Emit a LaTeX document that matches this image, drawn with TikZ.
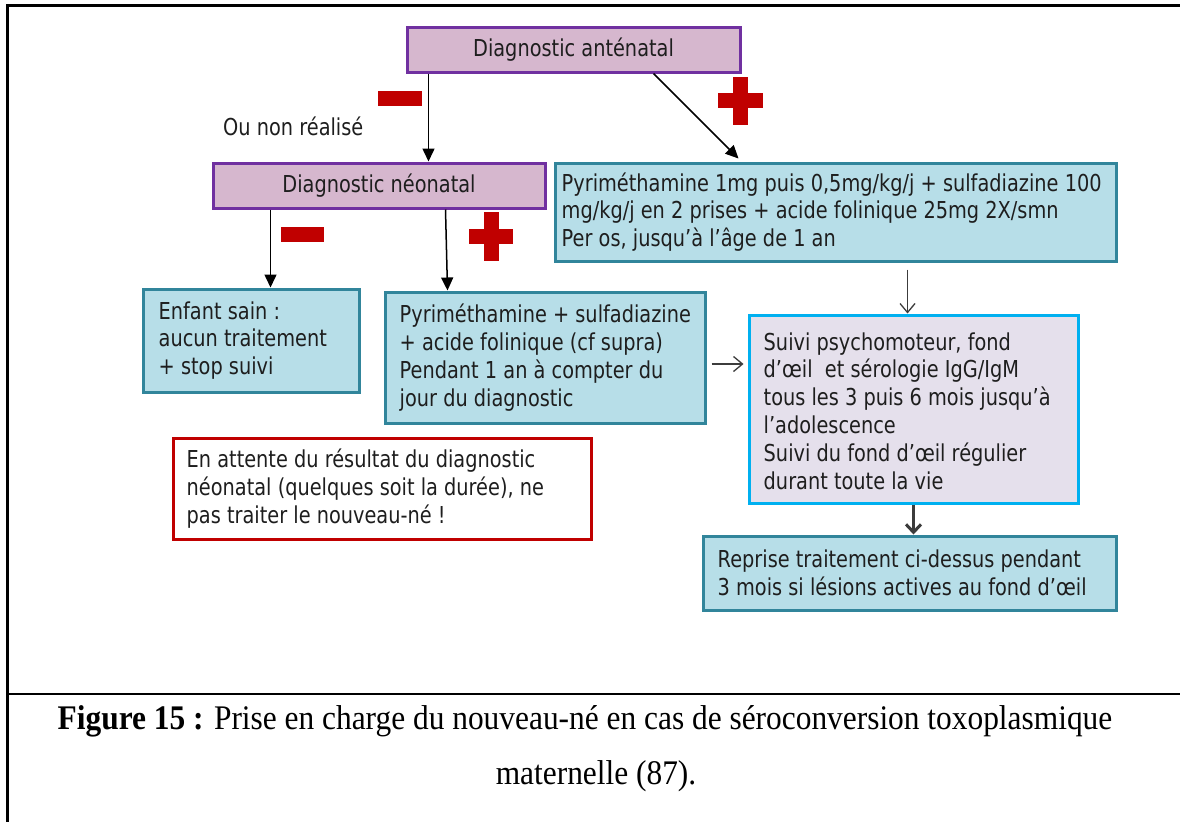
\documentclass[tikz,border=0pt]{standalone}
\usepackage{fontspec}
\setmainfont[FakeStretch=0.91]{Liberation Serif}
\newfontfamily\boxfont[FakeStretch=0.83]{DejaVu Sans}
\usetikzlibrary{arrows.meta,calc}

\definecolor{mauvefill}{RGB}{214,183,206}
\definecolor{mauveline}{RGB}{112,48,160}
\definecolor{tealfill}{RGB}{183,222,232}
\definecolor{tealline}{RGB}{49,133,155}
\definecolor{lilacfill}{RGB}{229,224,236}
\definecolor{skyline}{RGB}{0,176,240}
\definecolor{signred}{RGB}{192,0,0}
\definecolor{inkgray}{RGB}{30,30,30}
\definecolor{arrowgray}{RGB}{60,60,60}

\tikzset{
  boxtext/.style={font=\boxfont\fontsize{23.3}{27.8}\selectfont, text=inkgray,
    align=left, inner sep=0pt},
  frame/.style={draw, rectangle, line width=3pt, inner sep=0pt},
  mauvebox/.style={frame, draw=mauveline, fill=mauvefill,
    font=\boxfont\fontsize{23.3}{27.8}\selectfont, text=inkgray},
  tealbox/.style={frame, draw=tealline, fill=tealfill},
  lilacbox/.style={frame, draw=skyline, fill=lilacfill},
  notebox/.style={frame, draw=signred, fill=white},
  mainarrow/.style={draw=black, line width=1.5pt, -{Triangle[length=13pt,width=12pt]}},
  thinarrow/.style={draw=arrowgray, line width=1.3pt, -{Straight Barb[length=9pt,width=15pt,line width=1.3pt]}},
  heavyarrow/.style={draw=arrowgray, line width=3pt, -{Straight Barb[length=8pt,width=15pt,line width=3pt]}},
  signfill/.style={fill=signred},
  captionfont/.style={font=\rmfamily\fontsize{34.5}{37}\selectfont, text=black, inner sep=0pt},
}

\begin{document}
\begin{tikzpicture}[x=1pt,y=-1pt]
  % page area and outer rules
  \fill[white] (0,0) rectangle (1180,822);
  \useasboundingbox (0,0) rectangle (1180,822);
  \draw[line width=3pt] (1180,5) -- (7,5) -- (7,822);
  \draw[line width=2.5pt] (7,694) -- (1180,694);

  % decision boxes
  \node[mauvebox, minimum width=333pt, minimum height=45pt] (ante) at (573.5,49.5) {Diagnostic anténatal};
  \node[mauvebox, minimum width=332pt, minimum height=45pt] (neo) at (379,185.5) {Diagnostic néonatal};

  % treatment and follow-up boxes
  \node[tealbox, minimum width=561pt, minimum height=98pt] (treat) at (835.5,212) {};
  \node[boxtext, anchor=west] (treat-t) at ([xshift=8pt]treat.west)
    {Pyriméthamine 1mg puis 0,5mg/kg/j + sulfadiazine 100\\mg/kg/j en 2 prises + acide folinique 25mg 2X/smn\\Per os, jusqu’à l’âge de 1 an};

  \node[tealbox, minimum width=216pt, minimum height=103pt] (sain) at (251,340.5) {};
  \node[boxtext, anchor=west] (sain-t) at ([xshift=17pt]sain.west)
    {Enfant sain :\\aucun traitement\\+ stop suivi};

  \node[tealbox, minimum width=320pt, minimum height=131pt] (neotreat) at (545,357.5) {};
  \node[boxtext, anchor=west] (neotreat-t) at ([xshift=16pt]neotreat.west)
    {Pyriméthamine + sulfadiazine\\+ acide folinique (cf supra)\\Pendant 1 an à compter du\\jour du diagnostic};

  \node[notebox, minimum width=418pt, minimum height=101pt] (wait) at (382,488.5) {};
  \node[boxtext, anchor=west] (wait-t) at ([xshift=15pt]wait.west)
    {En attente du résultat du diagnostic\\néonatal (quelques soit la durée), ne\\pas traiter le nouveau-né !};

  \node[lilacbox, minimum width=329pt, minimum height=188pt] (follow) at (913.5,409) {};
  \node[boxtext, anchor=west] (follow-t) at ([xshift=16pt,yshift=-2pt]follow.west)
    {Suivi psychomoteur, fond\\d’œil~ et sérologie IgG/IgM\\tous les 3 puis 6 mois jusqu’à\\l’adolescence\\Suivi du fond d’œil régulier\\durant toute la vie};

  \node[tealbox, minimum width=413pt, minimum height=74pt] (resume) at (909.5,573) {};
  \node[boxtext, anchor=west] (resume-t) at ([xshift=16pt]resume.west)
    {Reprise traitement ci-dessus pendant\\3 mois si lésions actives au fond d’œil};

  % side label
  \node[boxtext, anchor=base west] (notdone) at (223,135) {Ou non réalisé};

  % connectors
  \draw[mainarrow] ([xshift=23pt]ante.south west) -- ([xshift=23pt]ante.south west |- neo.north);
  \draw[mainarrow] ([xshift=248pt]ante.south west) -- ([xshift=185pt,yshift=3pt]treat.north west);
  \draw[mainarrow] ([xshift=59pt]neo.south west) -- ([xshift=59pt]neo.south west |- sain.north);
  \draw[mainarrow] ([xshift=234pt]neo.south west) -- ([xshift=64pt]neotreat.north west);
  \coordinate (fromtreat) at ([xshift=354pt,yshift=-7pt]treat.south west);
  \draw[thinarrow] (fromtreat) -- (fromtreat |- follow.north);
  \coordinate (fromneo) at ([shift={(5,6.5)}]neotreat.east);
  \draw[thinarrow, shorten >=4pt] (fromneo) -- (fromneo -| follow.west);
  \draw[heavyarrow] (follow.south) -- (follow.south |- resume.north);

  % result signs
  \fill[signfill] (378,91) rectangle (422,106);
  \fill[signfill] (717.5,93) rectangle (762.5,108);
  \fill[signfill] (732.5,77) rectangle (747.5,125);
  \fill[signfill] (281,227) rectangle (324,242);
  \fill[signfill] (469,229) rectangle (513,244);
  \fill[signfill] (483.5,212) rectangle (498.5,261);

  % caption
  \node[captionfont, anchor=base] (cap1) at (585,729)
    {\textbf{Figure 15 :} Prise en charge du nouveau-né en cas de séroconversion toxoplasmique};
  \node[captionfont, anchor=base] (cap2) at (596,784) {maternelle (87).};
\end{tikzpicture}
\end{document}
